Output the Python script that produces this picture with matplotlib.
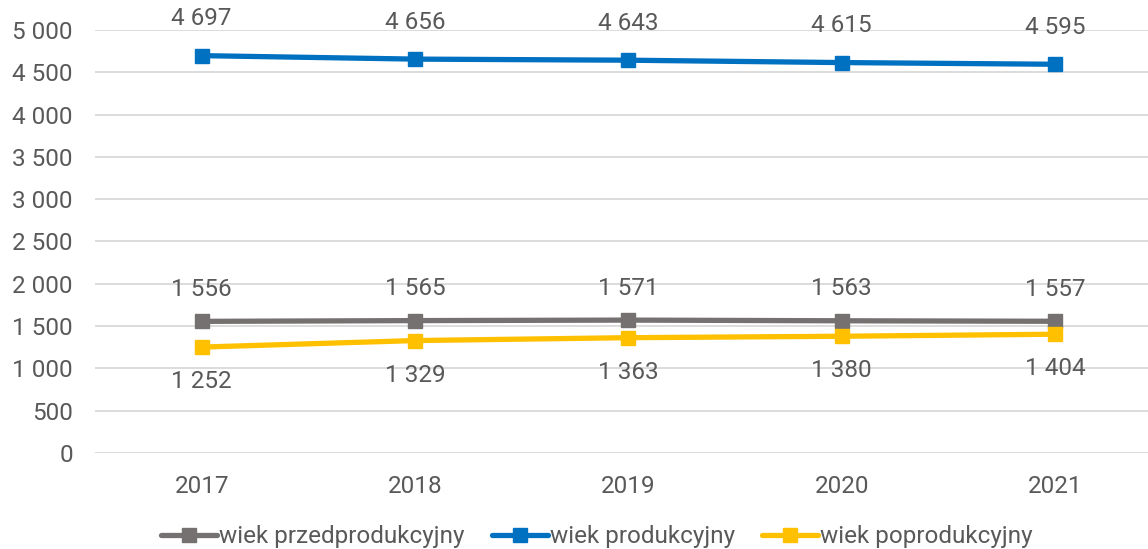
import matplotlib
matplotlib.use("Agg")
import matplotlib.pyplot as plt
from matplotlib.ticker import FuncFormatter

years = ["2017", "2018", "2019", "2020", "2021"]
przed = [1556, 1565, 1571, 1563, 1557]
prod = [4697, 4656, 4643, 4615, 4595]
poprod = [1252, 1329, 1363, 1380, 1404]
names = ["wiek przedprodukcyjny", "wiek produkcyjny", "wiek poprodukcyjny"]
colors = ["#767171", "#0070C0", "#FFC000"]
yticks = list(range(0, 5001, 500))

FONT = ["Roboto", "DejaVu Sans"]
plt.rcParams["font.family"] = FONT
TXT = "#595959"
FS = 17.5
WT = "normal"


def fmt(v):
    return f"{int(v):,}".replace(",", " ")


fig = plt.figure(figsize=(11.48, 5.49), dpi=100)
ax = fig.add_axes([95 / 1148, 96 / 549, 1 - 95 / 1148, (453 - 30) / 549])

x = list(range(len(years)))
series = [przed, prod, poprod]
offsets = [(0, 23), (0, 26.5), (0, -25)]
for vals, name, c, off in zip(series, names, colors, offsets):
    ax.plot(x, vals, color=c, lw=3.8, marker="s", markersize=10, label=name,
            solid_capstyle="round", zorder=3)
    for xi, v in zip(x, vals):
        ax.annotate(fmt(v), (xi, v), xytext=off, textcoords="offset points",
                    ha="center", va="center", fontsize=FS, color=TXT,
                    fontweight=WT, annotation_clip=False)

ax.set_xlim(-0.5, (1148 - 201) / 213.5)
ax.set_ylim(0, 5000)
ax.set_yticks(yticks)
ax.yaxis.set_major_formatter(FuncFormatter(lambda v, p: fmt(v)))
ax.set_xticks(x)
ax.set_xticklabels(years)
ax.tick_params(axis="both", length=0, labelsize=FS, labelcolor=TXT)
ax.tick_params(axis="y", pad=16)
ax.tick_params(axis="x", pad=16)
for lab in ax.get_xticklabels() + ax.get_yticklabels():
    lab.set_fontweight(WT)
ax.grid(axis="y", color="#D9D9D9", lw=1.3)
ax.set_axisbelow(True)
for s in ax.spines.values():
    s.set_visible(False)

leg = fig.legend(loc="center", bbox_to_anchor=(597 / 1148, 1 - 537 / 549), ncol=3,
                 frameon=False, handlelength=2.3, handletextpad=0.1,
                 columnspacing=1.1, prop={"size": 17.5, "weight": WT, "family": FONT})
for t in leg.get_texts():
    t.set_color(TXT)

fig.savefig("out.png", dpi=100)
